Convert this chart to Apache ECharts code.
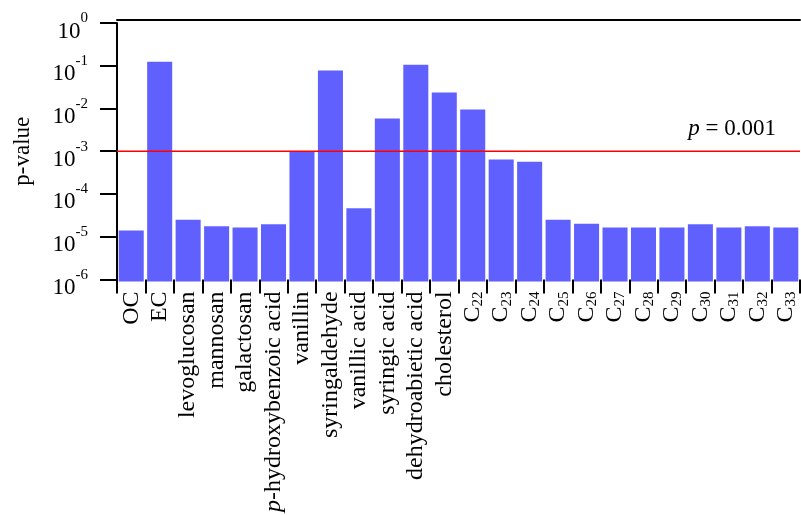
<!DOCTYPE html>
<html>
<head>
<meta charset="utf-8">
<script src="https://cdn.jsdelivr.net/npm/echarts@6/dist/echarts.min.js"></script>
<style>
  html, body { margin: 0; padding: 0; background: #fff; }
  #chart { width: 801px; height: 515px; }
</style>
</head>
<body>
<div id="chart"></div>
<script>
  const categories = [
    'OC', 'EC', 'levoglucosan', 'mannosan', 'galactosan', '{i|p}-hydroxybenzoic acid',
    'vanillin', 'syringaldehyde', 'vanillic acid', 'syringic acid', 'dehydroabietic acid',
    'cholesterol', 'C{sub|22}', 'C{sub|23}', 'C{sub|24}', 'C{sub|25}', 'C{sub|26}',
    'C{sub|27}', 'C{sub|28}', 'C{sub|29}', 'C{sub|30}', 'C{sub|31}', 'C{sub|32}', 'C{sub|33}',
  ];
  const pValues = [
    1.4e-5, 0.124, 2.5e-5, 1.75e-5, 1.65e-5, 1.95e-5,
    1.0e-3, 0.077, 4.6e-5, 5.8e-3, 0.106,
    0.0235, 9.4e-3, 6.4e-4, 5.7e-4, 2.5e-5, 2.0e-5,
    1.65e-5, 1.65e-5, 1.65e-5, 1.95e-5, 1.65e-5, 1.75e-5, 1.65e-5,
  ];
  const threshold = 0.001;
  const thresholdLabel = '{i|p}{r| = 0.001}';
  const yMin = 1e-6;
  const yMax = 1;

  const font = '"Liberation Serif", "DejaVu Serif", serif';
  const barColor = '#6060ff';
  const chart = echarts.init(document.getElementById('chart'), null, { renderer: 'canvas' });

  // log axis bars would grow down from 10^0, so draw them up from the axis min
  function renderBar(params, api) {
    const idx = api.value(0);
    const top = api.coord([idx, api.value(1)]);
    const base = api.coord([idx, yMin]);
    const w = api.size([1, 0])[0] * 0.88;
    return {
      type: 'rect',
      shape: { x: top[0] - w / 2, y: top[1], width: w, height: base[1] - top[1] + 2 },
      style: { fill: barColor },
    };
  }

  function renderThreshold(params, api) {
    const cs = params.coordSys;
    const y = api.coord([0, api.value(1)])[1];
    return {
      type: 'group',
      children: [
        {
          type: 'line',
          shape: { x1: cs.x, y1: y, x2: cs.x + cs.width, y2: y },
          style: { stroke: '#ff0000', lineWidth: 1.6 },
        },
        {
          type: 'text',
          x: cs.x + cs.width - 24,
          y: y - 11,
          style: {
            text: thresholdLabel,
            align: 'right',
            verticalAlign: 'bottom',
            fill: '#000',
            fontFamily: font,
            fontSize: 23,
            rich: {
              i: { fontFamily: font, fontSize: 23, fontStyle: 'italic', fill: '#000' },
              r: { fontFamily: font, fontSize: 23, fill: '#000' },
            },
          },
        },
      ],
    };
  }

  const option = {
    animation: false,
    grid: { left: 117, right: 1, top: 23, bottom: 235 },
    xAxis: [
      {
        type: 'category',
        data: categories,
        axisLine: { show: true, lineStyle: { color: 'rgba(0,0,0,0)', width: 2 } },
        axisTick: { show: true, length: 14, lineStyle: { color: '#000', width: 2 } },
        axisLabel: {
          rotate: 90,
          interval: 0,
          margin: 12,
          color: '#000',
          fontFamily: font,
          fontSize: 24,
          lineHeight: 26,
          rich: {
            i: { fontFamily: font, fontSize: 24, fontStyle: 'italic', color: '#000', lineHeight: 26 },
            sub: { fontFamily: font, fontSize: 15, color: '#000', lineHeight: 12, verticalAlign: 'bottom' },
          },
        },
      },
      {
        type: 'category',
        position: 'top',
        offset: 3,
        data: categories,
        axisLine: { show: true, lineStyle: { color: '#000', width: 2 } },
        axisTick: { show: false },
        axisLabel: { show: false },
      },
    ],
    yAxis: {
      type: 'log',
      logBase: 10,
      min: yMin,
      max: yMax,
      name: 'p-value',
      nameLocation: 'middle',
      nameGap: 83,
      nameTextStyle: { fontFamily: font, fontSize: 23, color: '#000' },
      axisLine: { show: true, lineStyle: { color: '#000', width: 2 } },
      axisTick: { show: true, length: 17, lineStyle: { color: '#000', width: 2 } },
      splitLine: { show: false },
      axisLabel: {
        margin: 29,
        color: '#000',
        padding: [8, 0, 0, 0],
        formatter: (value) => '{b|10}{sup|' + Math.round(Math.log10(value)) + '}',
        rich: {
          b: { fontFamily: font, fontSize: 23, color: '#000', lineHeight: 32, verticalAlign: 'bottom' },
          sup: { fontFamily: font, fontSize: 15, color: '#000', lineHeight: 14, verticalAlign: 'top' },
        },
      },
    },
    series: [
      {
        type: 'custom',
        xAxisIndex: 0,
        renderItem: renderBar,
        encode: { x: 0, y: 1 },
        data: pValues.map((v, i) => [i, v]),
      },
      {
        type: 'custom',
        xAxisIndex: 0,
        renderItem: renderThreshold,
        encode: { x: 0, y: 1 },
        data: [[0, threshold]],
        z: 3,
      },
    ],
  };

  chart.setOption(option);
  window.addEventListener('resize', () => chart.resize());
</script>
</body>
</html>
